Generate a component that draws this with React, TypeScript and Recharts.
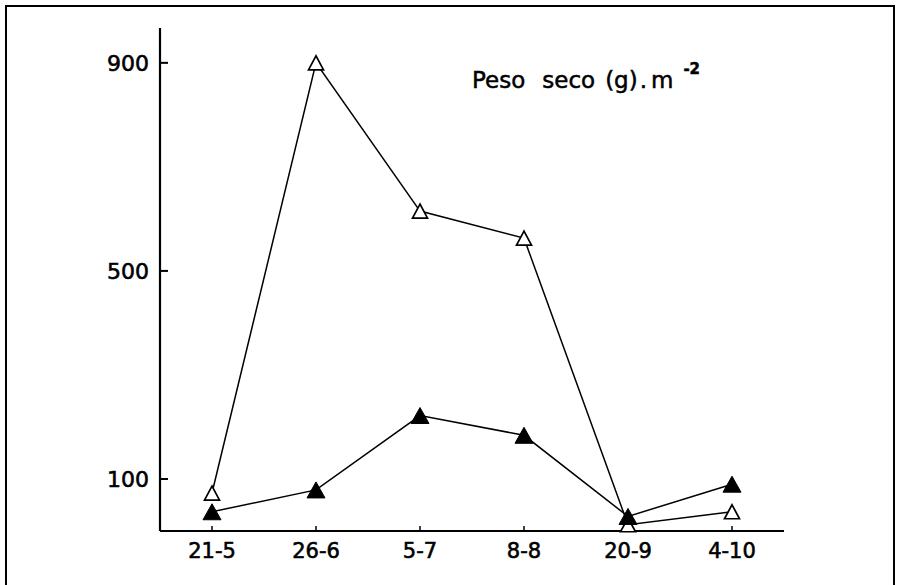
import React from 'react';
import { LineChart, Line, XAxis, YAxis } from 'recharts';

const categories = ['21-5', '26-6', '5-7', '8-8', '20-9', '4-10'];
const openValues = [73, 900, 615, 563, 12, 37];
const filledValues = [37, 79, 222, 184, 28, 90];
const yTicks = [100, 500, 900];

const data = categories.map((c, i) => ({
  date: c,
  open: openValues[i],
  filled: filledValues[i],
}));

const FONT = '"DejaVu Sans", Verdana, sans-serif';

const OpenTriangle = (props: any) => {
  const { cx, cy, index } = props;
  if (cx == null || cy == null) return null;
  const w = 15;
  const h = 14;
  return (
    <polygon
      key={`o-${index}`}
      points={`${cx},${cy - h / 2} ${cx - w / 2},${cy + h / 2} ${cx + w / 2},${cy + h / 2}`}
      fill="#fff"
      stroke="#000"
      strokeWidth={1.7}
    />
  );
};

const FilledTriangle = (props: any) => {
  const { cx, cy, index } = props;
  if (cx == null || cy == null) return null;
  const w = 18;
  const h = 16;
  return (
    <polygon
      key={`f-${index}`}
      points={`${cx},${cy - h / 2} ${cx - w / 2},${cy + h / 2} ${cx + w / 2},${cy + h / 2}`}
      fill="#000"
      stroke="#000"
      strokeWidth={1}
    />
  );
};

export default function App() {
  return (
    <div style={{ position: 'absolute', left: 0, top: 0, width: 897, height: 585, background: '#fff', overflow: 'hidden' }}>
      <div
        style={{
          position: 'absolute',
          left: 5,
          top: 5,
          width: 886,
          height: 578,
          borderLeft: '2px solid #000',
          borderTop: '2px solid #000',
          borderRight: '2px solid #000',
        }}
      />
      <div style={{ position: 'absolute', left: 0, top: 0 }}>
        <LineChart width={897} height={585} data={data} margin={{ top: 28, right: 113, bottom: 14, left: 0 }}>
          <XAxis
            dataKey="date"
            height={40}
            padding={{ left: 52, right: 52 }}
            axisLine={{ stroke: '#000', strokeWidth: 2.2 }}
            tickLine={{ stroke: '#000', strokeWidth: 1.5 }}
            tickSize={-5}
            tickMargin={17}
            tick={{ fill: '#000', fontSize: 21, fontFamily: FONT, stroke: '#000', strokeWidth: 0.6 }}
            interval={0}
          />
          <YAxis
            width={160}
            domain={[0, 967]}
            ticks={yTicks}
            type="number"
            axisLine={{ stroke: '#000', strokeWidth: 2.2 }}
            tickLine={{ stroke: '#000', strokeWidth: 2 }}
            tickSize={-8}
            tickMargin={19}
            tick={{ fill: '#000', fontSize: 22, fontFamily: FONT, stroke: '#000', strokeWidth: 0.6 }}
          />
          <Line
            dataKey="open"
            stroke="#000"
            strokeWidth={1.5}
            dot={OpenTriangle}
            activeDot={false}
            isAnimationActive={false}
          />
          <Line
            dataKey="filled"
            stroke="#000"
            strokeWidth={1.5}
            dot={FilledTriangle}
            activeDot={false}
            isAnimationActive={false}
          />
        </LineChart>
      </div>
      <div
        style={{
          position: 'absolute',
          left: 472,
          top: 69,
          fontFamily: FONT,
          fontSize: 23,
          lineHeight: '23px',
          color: '#000',
          whiteSpace: 'nowrap',
          WebkitTextStroke: '0.5px #000',
        }}
      >
        <span>Peso</span>
        <span style={{ marginLeft: 17 }}>seco</span>
        <span style={{ marginLeft: 10 }}>(g)</span>
        <span style={{ marginLeft: 2 }}>.</span>
        <span style={{ marginLeft: 4 }}>m</span>
        <span style={{ fontSize: 15, position: 'relative', top: -14, marginLeft: 10, fontWeight: 'bold' }}>-2</span>
      </div>
    </div>
  );
}
